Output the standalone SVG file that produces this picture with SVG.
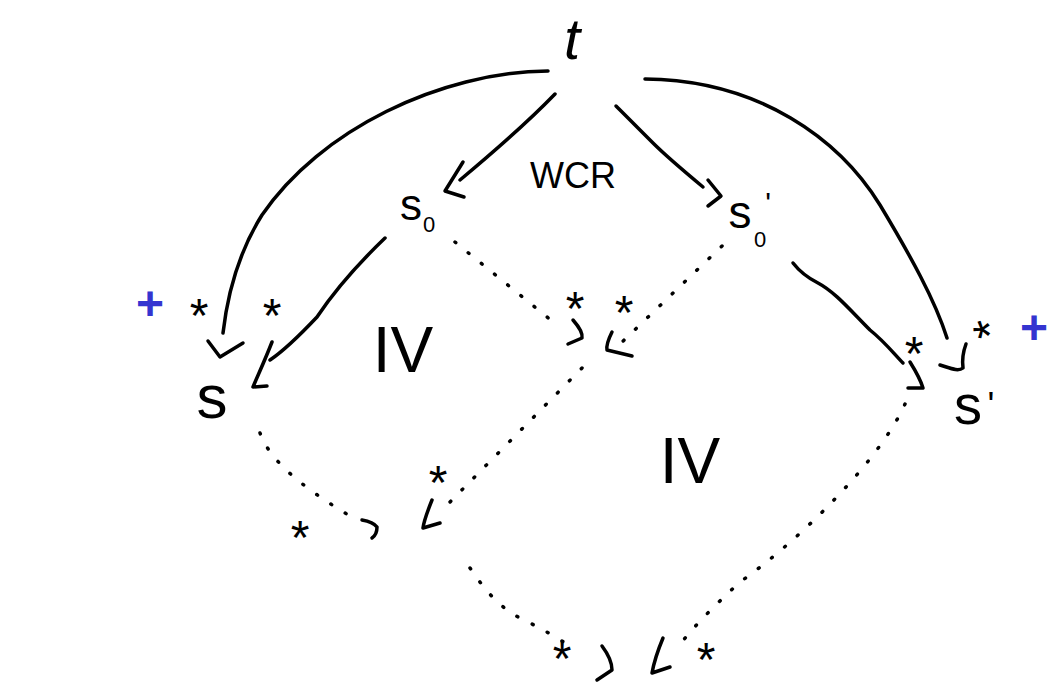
<svg xmlns="http://www.w3.org/2000/svg" width="1060" height="684" viewBox="0 0 1060 684">
<style>
.ln{fill:none;stroke:#000;stroke-width:3.5;stroke-linecap:round;stroke-linejoin:round}
.dt{fill:none;stroke:#000;stroke-width:3.5;stroke-linecap:round;stroke-dasharray:1 16}
.lb{font-family:"Liberation Sans",Arial,sans-serif;fill:#000}
.st{font-family:"Liberation Sans",Arial,sans-serif;font-size:48px;fill:#000;text-anchor:middle}
.pl{font-family:"Liberation Sans",Arial,sans-serif;font-size:48px;font-weight:bold;fill:#3434d0;text-anchor:middle}
</style>
<rect width="1060" height="684" fill="#fff"/>
<g id="connectors">
  <!-- t to s (long left arc) -->
  <path class="ln" d="M548,71 C440,72 320,130 262,215 C240,250 228,290 223,333"/>
  <path class="ln" d="M208,341 L220,357 L243,343"/>
  <!-- t to s0 -->
  <path class="ln" d="M555,94 C525,125 490,155 460,180"/>
  <path class="ln" d="M463,162 L445,191 L464,197"/>
  <!-- t to s0' -->
  <path class="ln" d="M616,106 C630,120 645,135 653,143 C665,155 685,172 703,187"/>
  <path class="ln" d="M708,180 L721,196 L708,206"/>
  <!-- t to s' (long right arc) -->
  <path class="ln" d="M645,79 C760,80 840,140 880,205 C910,255 935,300 947,338"/>
  <path class="ln" d="M940,365 C950,368 958,372 963,368 C962,360 963,352 966,344"/>
  <!-- s0 to s -->
  <path class="ln" d="M385,238 C360,262 335,290 317,317 C300,335 285,350 270,360"/>
  <path class="ln" d="M272,342 C265,360 258,375 253,387 L267,386"/>
  <!-- s0' to s' -->
  <path class="ln" d="M793,263 C800,272 808,278 818,283 C835,292 850,310 870,330 C885,342 895,355 903,363"/>
  <path class="ln" d="M910,362 C915,370 920,378 923,388 L908,388"/>
  <!-- dotted: s0 to middle -->
  <path class="dt" d="M455,242 L552,321"/>
  <path class="ln" d="M573,320 C580,328 583,333 582,338 L568,344"/>
  <!-- dotted: s0' to middle -->
  <path class="dt" d="M722,246 L620,344"/>
  <path class="ln" d="M612,332 C608,340 606,345 607,350 L632,356"/>
  <!-- dotted: middle to bottom-left -->
  <path class="dt" d="M582,368 L450,502"/>
  <path class="ln" d="M432,500 C428,510 424,520 423,528 L440,523"/>
  <!-- dotted: s to bottom-left -->
  <path class="dt" d="M260,433 C268,455 290,480 350,516"/>
  <path class="ln" d="M362,520 C368,521 374,523 377,527 C377,532 375,536 372,538"/>
  <!-- dotted: bottom-left to bottom -->
  <path class="dt" d="M470,568 C485,590 500,610 530,623 C548,632 560,640 572,647"/>
  <path class="ln" d="M602,646 C608,654 612,662 612,670 L597,680"/>
  <!-- dotted: s' to bottom -->
  <path class="dt" d="M905,404 C880,460 800,540 740,582 C715,605 695,625 677,648"/>
  <path class="ln" d="M663,638 C658,650 654,662 652,673 L670,667"/>
  <!-- stars -->
  <text class="st" x="199" y="332">*</text>
  <text class="st" x="272" y="332">*</text>
  <text class="st" x="575" y="325">*</text>
  <text class="st" x="624" y="329">*</text>
  <text class="st" x="438" y="499">*</text>
  <text class="st" x="300" y="554">*</text>
  <text class="st" x="914" y="370">*</text>
  <text class="st" x="981" y="354" transform="rotate(-20 981 327)">*</text>
  <text class="st" x="562" y="675" font-size="34">*</text>
  <text class="st" x="706" y="676" font-size="36">*</text>
  <!-- plus signs -->
  <text class="pl" x="150" y="320">+</text>
  <text class="pl" x="1034" y="344">+</text>
</g>
<g id="node-t"><text class="lb" x="572" y="59" font-size="58" font-style="italic" text-anchor="middle">t</text></g>
<g id="node-s0"><text class="lb" x="411" y="220" font-size="44" text-anchor="middle">s</text><text class="lb" x="429" y="232" font-size="22" text-anchor="middle">0</text></g>
<g id="node-s0p"><text class="lb" x="740" y="228" font-size="46" text-anchor="middle">s</text><text class="lb" x="768" y="213" font-size="30" text-anchor="middle">'</text><text class="lb" x="760" y="247" font-size="22" text-anchor="middle">0</text></g>
<g id="node-s"><text class="lb" x="212" y="418" font-size="62" text-anchor="middle">s</text></g>
<g id="node-sp"><text class="lb" x="968" y="424" font-size="56" text-anchor="middle">s</text><text class="lb" x="991" y="418" font-size="36" text-anchor="middle">'</text></g>
<g id="labels">
  <text class="lb" x="573" y="188" font-size="36" text-anchor="middle">WCR</text>
  <text class="lb" x="403" y="372" font-size="64" text-anchor="middle">IV</text>
  <text class="lb" x="690" y="483" font-size="64" text-anchor="middle">IV</text>
</g>
</svg>
